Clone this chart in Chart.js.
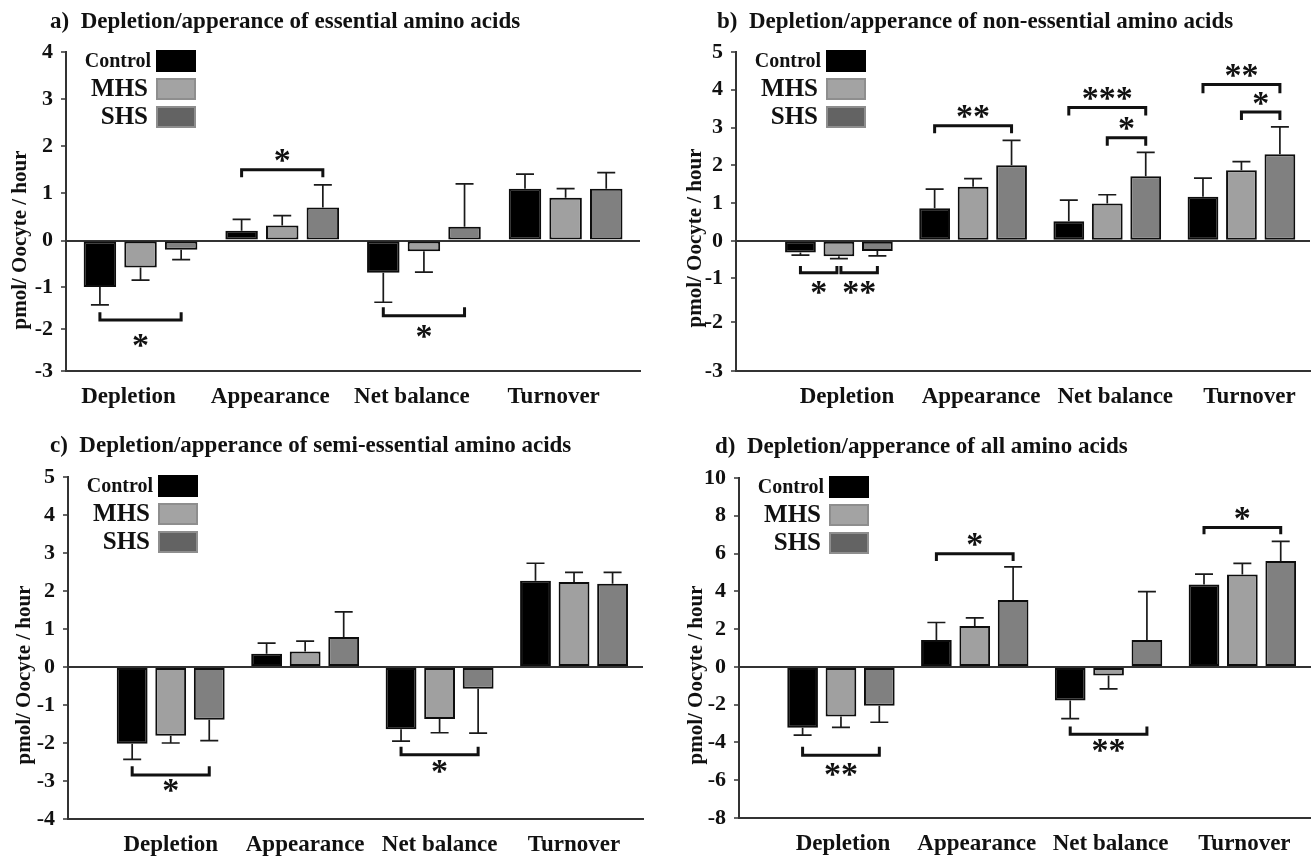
<!DOCTYPE html>
<html><head><meta charset="utf-8">
<script src="https://cdn.jsdelivr.net/npm/chart.js@4.4.1/dist/chart.umd.min.js"></script>
<style>
html,body{margin:0;padding:0;background:#fff;}
#wrap{position:relative;width:1311px;height:858px;overflow:hidden;background:#fff;}
canvas{position:absolute;left:0;top:0;}
</style></head><body><div id="wrap">
<canvas id="ca" width="1311" height="858"></canvas>
<canvas id="cb" width="1311" height="858"></canvas>
<canvas id="cc" width="1311" height="858"></canvas>
<canvas id="cd" width="1311" height="858"></canvas>
</div>
<script>
// ---------- data ----------
const categories = ['Depletion', 'Appearance', 'Net balance', 'Turnover'];
const groupNames = ['Control', 'MHS', 'SHS'];
const panelTitles = [
  'a)  Depletion/apperance of essential amino acids',
  'b)  Depletion/apperance of non-essential amino acids',
  'c)  Depletion/apperance of semi-essential amino acids',
  'd)  Depletion/apperance of all amino acids'
];
const yAxisTitle = 'pmol/ Oocyte / hour';

// a) essential amino acids
const essControl = [-1.00, 0.21, -0.69, 1.10];
const essControlSEM = [0.42, 0.24, 0.67, 0.31];
const essMHS = [-0.58, 0.32, -0.23, 0.91];
const essMHSSEM = [0.27, 0.21, 0.45, 0.19];
const essSHS = [-0.20, 0.70, 0.29, 1.10];
const essSHSSEM = [0.21, 0.48, 0.91, 0.34];
const essTicks = [-3, -2, -1, 0, 1, 2, 3, 4];

// b) non-essential amino acids
const nonControl = [-0.31, 0.86, 0.52, 1.17];
const nonControlSEM = [0.07, 0.51, 0.56, 0.49];
const nonMHS = [-0.41, 1.43, 0.99, 1.87];
const nonMHSSEM = [0.06, 0.22, 0.23, 0.23];
const nonSHS = [-0.27, 2.00, 1.71, 2.29];
const nonSHSSEM = [0.13, 0.66, 0.63, 0.73];
const nonTicks = [-3, -2, -1, 0, 1, 2, 3, 4, 5];

// c) semi-essential amino acids
const semiControl = [-2.02, 0.35, -1.64, 2.27];
const semiControlSEM = [0.41, 0.28, 0.31, 0.46];
const semiMHS = [-1.81, 0.41, -1.37, 2.24];
const semiMHSSEM = [0.19, 0.27, 0.36, 0.25];
const semiSHS = [-1.39, 0.79, -0.57, 2.19];
const semiSHSSEM = [0.55, 0.66, 1.17, 0.30];
const semiTicks = [-4, -3, -2, -1, 0, 1, 2, 3, 4, 5];

// d) all amino acids
const allControl = [-3.22, 1.42, -1.78, 4.36];
const allControlSEM = [0.39, 0.93, 0.96, 0.55];
const allMHS = [-2.63, 2.17, -0.46, 4.89];
const allMHSSEM = [0.57, 0.43, 0.70, 0.59];
const allSHS = [-2.06, 3.54, 1.42, 5.60];
const allSHSSEM = [0.87, 1.76, 2.56, 1.05];
const allTicks = [-8, -6, -4, -2, 0, 2, 4, 6, 8, 10];

// significance brackets (category, group from, group to, bracket level, arm end, mark, mark level)
const essSig = [
  {cat: 0, from: 0, to: 2, line: -1.78, arm: -1.60, mark: '*', at: -2.26},
  {cat: 1, from: 0, to: 2, line: 1.50, arm: 1.34, mark: '*', at: 1.80},
  {cat: 2, from: 0, to: 2, line: -1.68, arm: -1.48, mark: '*', at: -2.06}
];
const nonSig = [
  {cat: 0, from: 0, to: 1, line: -0.85, arm: -0.67, mark: '*', at: -1.20},
  {cat: 0, from: 1, to: 2, line: -0.85, arm: -0.67, mark: '**', at: -1.20},
  {cat: 1, from: 0, to: 2, line: 3.05, arm: 2.85, mark: '**', at: 3.42},
  {cat: 2, from: 0, to: 2, line: 3.53, arm: 3.32, mark: '***', at: 3.89},
  {cat: 2, from: 1, to: 2, line: 2.73, arm: 2.52, mark: '*', at: 3.12},
  {cat: 3, from: 0, to: 2, line: 4.14, arm: 3.91, mark: '**', at: 4.50},
  {cat: 3, from: 1, to: 2, line: 3.41, arm: 3.20, mark: '*', at: 3.78}
];
const semiSig = [
  {cat: 0, from: 0, to: 2, line: -2.84, arm: -2.61, mark: '*', at: -3.12},
  {cat: 2, from: 0, to: 2, line: -2.31, arm: -2.10, mark: '*', at: -2.61}
];
const allSig = [
  {cat: 0, from: 0, to: 2, line: -4.68, arm: -4.23, mark: '**', at: -5.42},
  {cat: 1, from: 0, to: 2, line: 5.99, arm: 5.60, mark: '*', at: 6.76},
  {cat: 2, from: 0, to: 2, line: -3.57, arm: -3.16, mark: '**', at: -4.18},
  {cat: 3, from: 0, to: 2, line: 7.38, arm: 7.02, mark: '*', at: 8.12}
];

// ---------- styling / layout ----------
const SERIF = '"Liberation Serif", "Times New Roman", serif';
const barFill = ['#000000', '#a0a0a0', '#808080'];
const legendFill = ['#000000', '#a3a3a3', '#636363'];
const legendStroke = [null, '#8e8e8e', '#8e8e8e'];

const panels = [
  {id: 'ca', title: panelTitles[0], ser: [essControl, essMHS, essSHS], err: [essControlSEM, essMHSSEM, essSHSSEM],
   ticks: essTicks, sig: essSig, box: {L: 66, R: 640, T: 52, B: 371},
   pw: [[-3, 0], [-2, 0.131], [-1, 0.263], [0, 0.409], [4, 1]], xpad: [0.026, 0.025], labelOffset: -12,
   titlePos: [50, 22], yTitlePos: [21, 240]},
  {id: 'cb', title: panelTitles[1], ser: [nonControl, nonMHS, nonSHS], err: [nonControlSEM, nonMHSSEM, nonSHSSEM],
   ticks: nonTicks, sig: nonSig, box: {L: 736, R: 1310, T: 52, B: 371},
   pw: [[-3, 0], [-2, 0.153], [-1, 0.290], [0, 0.408], [5, 1]], xpad: [0.267, 0.011], labelOffset: 8,
   titlePos: [717, 22], yTitlePos: [696, 238]},
  {id: 'cc', title: panelTitles[2], ser: [semiControl, semiMHS, semiSHS], err: [semiControlSEM, semiMHSSEM, semiSHSSEM],
   ticks: semiTicks, sig: semiSig, box: {L: 68, R: 643, T: 477, B: 819},
   pw: null, xpad: [0.264, 0.013], labelOffset: 0,
   titlePos: [50, 446], yTitlePos: [25, 675]},
  {id: 'cd', title: panelTitles[3], ser: [allControl, allMHS, allSHS], err: [allControlSEM, allMHSSEM, allSHSSEM],
   ticks: allTicks, sig: allSig, box: {L: 739, R: 1311, T: 478, B: 818},
   pw: null, xpad: [0.262, 0.013], labelOffset: 2,
   titlePos: [715, 447], yTitlePos: [697, 675]}
];

function installPiecewise(scale, stops) {
  if (!stops) return;
  scale.getPixelForValue = function (v) {
    let i = 0;
    while (i < stops.length - 2 && v > stops[i + 1][0]) i++;
    const a = stops[i], b = stops[i + 1];
    const d = a[1] + (v - a[0]) * (b[1] - a[1]) / (b[0] - a[0]);
    return this.getPixelForDecimal(d);
  };
}

function centeredText(ctx, text, x, y) {
  const m = ctx.measureText(text);
  const asc = m.actualBoundingBoxAscent, desc = m.actualBoundingBoxDescent;
  ctx.textBaseline = 'alphabetic';
  ctx.textAlign = 'center';
  ctx.fillText(text, x, y + (asc - desc) / 2);
}

function makeDecor(p) {
  return {
    id: 'decor_' + p.id,
    afterDatasetsDraw(chart) {
      const ctx = chart.ctx;
      const ys = chart.scales.y;
      const area = chart.chartArea;
      ctx.save();
      // error bars
      chart.data.datasets.forEach((ds, di) => {
        const meta = chart.getDatasetMeta(di);
        meta.data.forEach((bar, i) => {
          const v = ds.data[i], e = ds.errors[i];
          const tip = v >= 0 ? v + e : v - e;
          const y1 = ys.getPixelForValue(tip);
          ctx.strokeStyle = '#1a1a1a';
          ctx.lineWidth = 1.7;
          ctx.beginPath();
          ctx.moveTo(bar.x, bar.y);
          ctx.lineTo(bar.x, y1);
          ctx.moveTo(bar.x - 9, y1);
          ctx.lineTo(bar.x + 9, y1);
          ctx.stroke();
        });
      });
      // significance brackets
      p.sig.forEach((s) => {
        let x1 = chart.getDatasetMeta(s.from).data[s.cat].x;
        let x2 = chart.getDatasetMeta(s.to).data[s.cat].x;
        p.sig.forEach((o) => {
          if (o !== s && o.cat === s.cat && o.line === s.line) {
            if (o.to === s.from) x1 += 2;
            if (o.from === s.to) x2 -= 2;
          }
        });
        const yl = ys.getPixelForValue(s.line), ya = ys.getPixelForValue(s.arm);
        ctx.strokeStyle = '#111';
        ctx.lineWidth = 3;
        ctx.lineJoin = 'miter';
        ctx.beginPath();
        ctx.moveTo(x1, ya);
        ctx.lineTo(x1, yl);
        ctx.lineTo(x2, yl);
        ctx.lineTo(x2, ya);
        ctx.stroke();
        ctx.fillStyle = '#111';
        ctx.font = 'bold 34px ' + SERIF;
        centeredText(ctx, s.mark, (x1 + x2) / 2, ys.getPixelForValue(s.at));
      });
      // legend (text left of swatch)
      const lx = area.left + 90, ly = area.top - 2;
      chart.data.datasets.forEach((ds, i) => {
        const by = ly + i * 28;
        ctx.fillStyle = legendFill[i];
        ctx.fillRect(lx, by, 40, 22);
        if (legendStroke[i]) {
          ctx.strokeStyle = legendStroke[i];
          ctx.lineWidth = 2;
          ctx.strokeRect(lx + 1, by + 1, 38, 20);
        }
        ctx.fillStyle = '#111';
        ctx.font = 'bold ' + (i === 0 ? 20 : 25) + 'px ' + SERIF;
        ctx.textAlign = 'right';
        ctx.textBaseline = 'middle';
        ctx.fillText(ds.label, lx - (i === 0 ? 5 : 8), by + 12);
      });
      // panel title
      ctx.fillStyle = '#111';
      ctx.font = 'bold 23px ' + SERIF;
      ctx.textAlign = 'left';
      ctx.textBaseline = 'middle';
      ctx.fillText(p.title, p.titlePos[0], p.titlePos[1]);
      // y axis title
      ctx.save();
      ctx.translate(p.yTitlePos[0], p.yTitlePos[1]);
      ctx.rotate(-Math.PI / 2);
      ctx.font = 'bold 21px ' + SERIF;
      ctx.textAlign = 'center';
      ctx.textBaseline = 'middle';
      ctx.fillText(yAxisTitle, 0, 0);
      ctx.restore();
      ctx.restore();
    }
  };
}

panels.forEach((p) => {
  const b = p.box;
  const yW = 60, xH = 45;
  const ticks = p.ticks;
  new Chart(document.getElementById(p.id), {
    type: 'bar',
    data: {
      labels: categories,
      datasets: groupNames.map((g, i) => ({
        label: g,
        data: p.ser[i],
        errors: p.err[i],
        backgroundColor: barFill[i],
        borderColor: '#0d0d0d',
        borderWidth: 2,
        borderSkipped: false,
        categoryPercentage: 0.86,
        barPercentage: 0.8
      }))
    },
    options: {
      responsive: false,
      animation: false,
      events: [],
      layout: {padding: {left: b.L - yW, top: b.T, right: 1311 - b.R, bottom: 858 - b.B - xH}},
      plugins: {legend: {display: false}, tooltip: {enabled: false}, title: {display: false}},
      scales: {
        x: {
          type: 'category',
          offset: true,
          grid: {display: false, drawTicks: false},
          border: {display: true, color: '#333', width: 2},
          ticks: {
            color: '#111', padding: 12, labelOffset: p.labelOffset, maxRotation: 0, autoSkip: false,
            font: {family: SERIF, weight: 'bold', size: 23}
          },
          afterBuildTicks: (s) => { s._startValue -= p.xpad[0]; s._valueRange += p.xpad[0] + p.xpad[1]; },
          afterFit: (s) => { s.height = xH; s.paddingLeft = 0; s.paddingRight = 0; }
        },
        y: {
          type: 'linear',
          min: ticks[0],
          max: ticks[ticks.length - 1],
          ticks: {
            stepSize: ticks[1] - ticks[0], color: '#111', padding: 8,
            font: {family: SERIF, weight: 'bold', size: 22}
          },
          grid: {
            drawOnChartArea: true, drawTicks: true, tickLength: 5, tickColor: '#333', tickWidth: 1.5,
            lineWidth: 2,
            color: (c) => (c.tick && c.tick.value === 0) ? '#333' : 'rgba(0,0,0,0)'
          },
          border: {display: true, color: '#333', width: 2},
          afterBuildTicks: (s) => installPiecewise(s, p.pw),
          afterFit: (s) => { s.width = yW; s.paddingTop = 0; s.paddingBottom = 0; }
        }
      }
    },
    plugins: [makeDecor(p)]
  });
});
</script>
</body></html>
